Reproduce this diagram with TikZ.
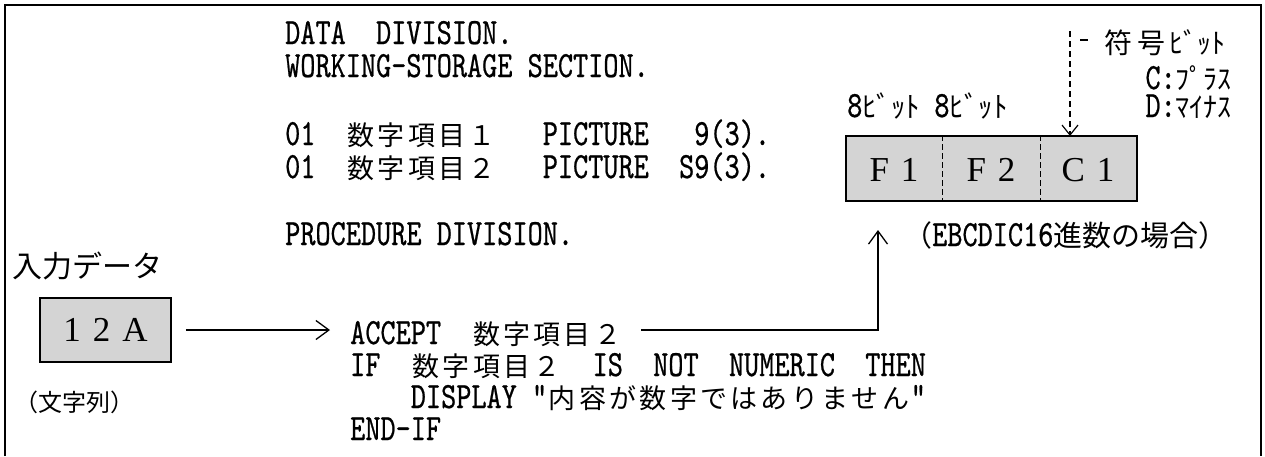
\documentclass[tikz,border=0pt]{standalone}
\usepackage{fontspec}
\usetikzlibrary{arrows.meta,calc}
\newfontfamily\jpfont{Noto Sans CJK JP}
\newfontfamily\codefont[FakeStretch=0.78,FakeBold=0.6]{lmmono10-regular.otf}
\newfontfamily\boxfont{Liberation Serif}
\newcommand\cf{\codefont\fontsize{37}{37}\selectfont}
\newcommand\jf[1]{\jpfont\fontsize{#1}{#1}\selectfont}
\makeatletter
\newcommand\JJ[1]{\@tfor\my@jc:=#1\do{\makebox[30.3pt]{\jf{27}\my@jc}}}
\makeatother
\tikzset{
  code/.style={anchor=base west, inner sep=0pt, font=\cf},
  jplab/.style={anchor=west, inner sep=0pt},
  conn/.style={line width=1.3pt},
  barb/.style={-{Straight Barb[length=13pt,width=19pt,line width=1.3pt]}},
  screen/.style={draw, line width=1.6pt, fill=black!17, minimum height=64pt, inner sep=0pt},
  divider/.style={line width=1.4pt, dash pattern=on 6pt off 3pt},
  signline/.style={line width=1.2pt, dash pattern=on 6pt off 4pt},
  frame/.style={line width=2pt},
  boxtext/.style={inner sep=0pt, font=\boxfont\fontsize{35}{35}\selectfont},
  note/.style={inner sep=0pt},
}
\begin{document}
\begin{tikzpicture}[x=1pt,y=-1pt]
\useasboundingbox (0,0) rectangle (1265,456);
% frame (open at bottom)
\coordinate (fbl) at (5,456);
\coordinate (ftl) at (5,5);
\coordinate (ftr) at (1261,5);
\coordinate (fbr) at (1261,456);
\draw[frame] (fbl) -- (ftl) -- (ftr) -- (fbr);

% code lines
\node[code] (l1) at (285,44) {DATA~~DIVISION.};
\node[code] (l2) at (285,77) {WORKING-STORAGE~SECTION.};
\node[code] (l3) at (285,145) {01~~\JJ{数字項目１}~~~PICTURE~~~9(3).};
\node[code] (l4) at (285,178) {01~~\JJ{数字項目２}~~~PICTURE~~S9(3).};
\node[code] (l5) at (285,245) {PROCEDURE~DIVISION.};
\node[code] (acc) at (350,344) {ACCEPT~~\JJ{数字項目２}};
\node[code] (lif) at (350,376) {IF~~\JJ{数字項目２}~~IS~~NOT~~NUMERIC~~THEN};
\node[code] (ldisp) at (350,408) {~~~~DISPLAY~"\JJ{内容が数字ではありません}"};
\node[code] (lend) at (350,440) {END-IF};

% input data
\node[jplab] (inlab) at (12,266) {\jf{30}入力データ};
\node[screen, minimum width=131pt] (inbox) at (105.5,330)
  {\boxfont\fontsize{35}{35}\selectfont 1\hspace{12pt}2\hspace{12pt}A};
\node[jplab] (strlab) at (14,402) {\jf{24}（文字列）};

% arrows
\draw[conn,barb] ([xshift=14pt]inbox.east) -- ([xshift=-20pt]acc.west |- inbox.east);
\coordinate (uptip) at (878,230);
\draw[conn,barb] ([xshift=18pt]acc.east |- inbox.east) -| (uptip);

% register box
\node[screen, minimum width=291pt, minimum height=65pt] (reg) at (991.5,168.5) {};
\draw[divider] ($(reg.north west)!1/3!(reg.north east)$) -- ($(reg.south west)!1/3!(reg.south east)$);
\draw[divider] ($(reg.north west)!2/3!(reg.north east)$) -- ($(reg.south west)!2/3!(reg.south east)$);
\node[boxtext] (f1) at (894,170) {F\hspace{12pt}1};
\node[boxtext] (f2) at (991,170) {F\hspace{12pt}2};
\node[boxtext] (c1) at (1088,170) {C\hspace{12pt}1};

% labels above register
\node[note, anchor=base west] (bits) at (847,117)
  {\cf 8\jf{29}ﾋﾞｯﾄ\hspace{14pt}\cf 8\jf{29}ﾋﾞｯﾄ};
\node[note, anchor=base west] (sign) at (1104,53) {\jf{28}符\hspace{5pt}号\hspace{4pt}ﾋﾞｯﾄ};
\node[note, anchor=base east] (plus) at (1232,89) {\cf C:\jf{28}ﾌﾟﾗｽ};
\node[note, anchor=base east] (minus) at (1232,117) {\cf D:\jf{28}ﾏｲﾅｽ};
\coordinate (signtop) at (1070,31);
\coordinate (signtip) at (1070,136);
\coordinate (dashA) at (1080,40);
\coordinate (dashB) at (1088,40);
\draw[line width=1.2pt] (dashA) -- (dashB);
\draw[signline, -{Straight Barb[length=10pt,width=16pt,line width=1.2pt]}]
  (signtop) -- (signtip);

% EBCDIC note
\node[note, anchor=base west] (ebc) at (903,246)
  {\jf{29}（\cf EBCDIC16\jf{29}進数の場合）};
\end{tikzpicture}
\end{document}
